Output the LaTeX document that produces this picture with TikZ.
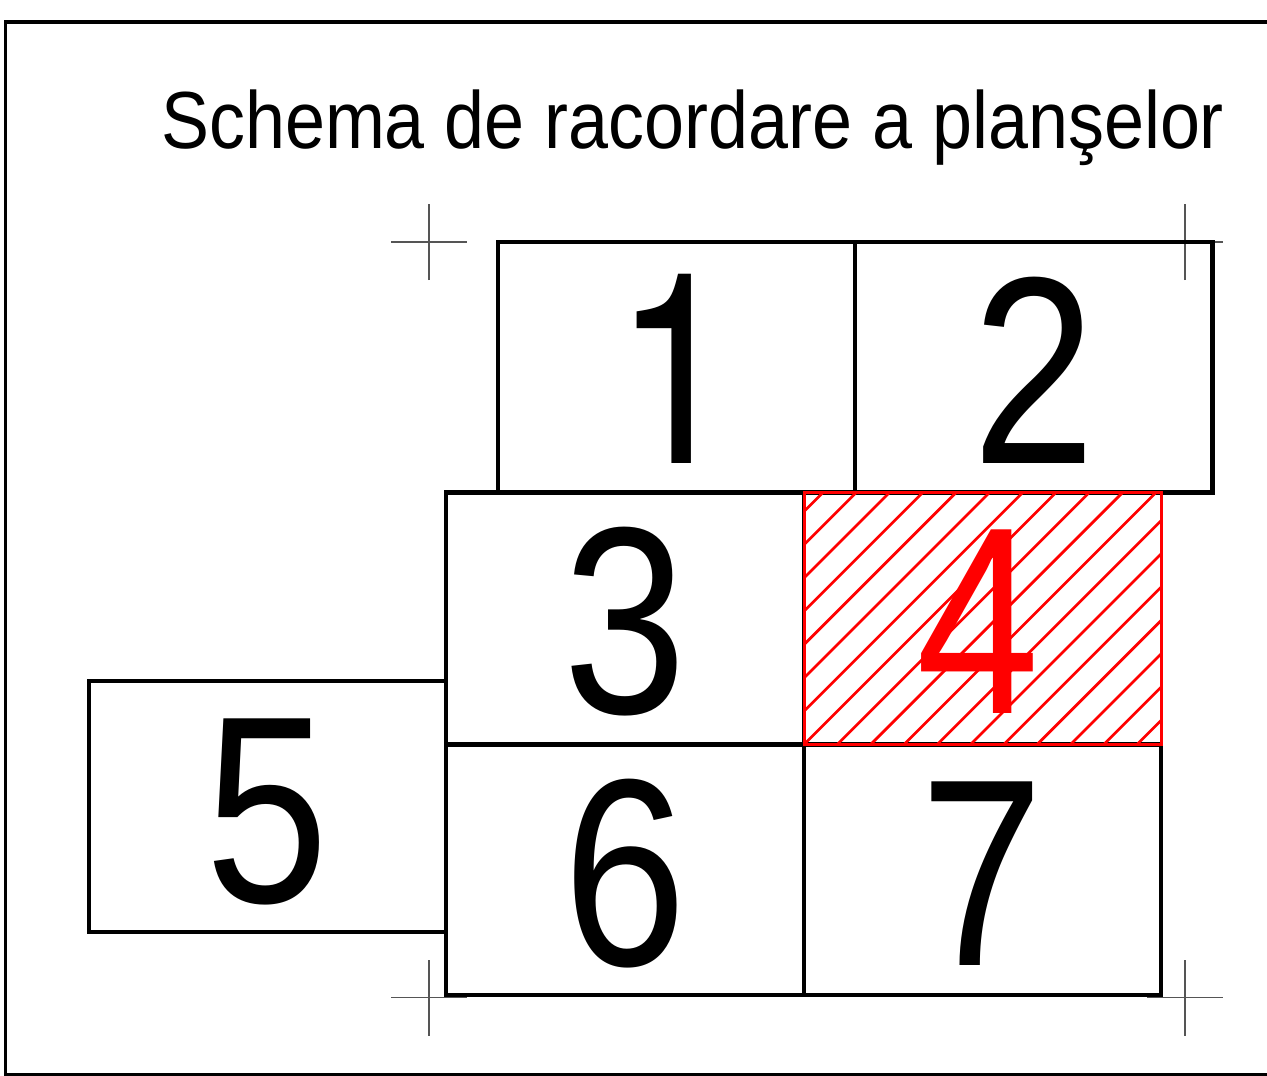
\documentclass[tikz,border=0pt]{standalone}
\usepackage{fontspec}
\setmainfont{Liberation Sans}
\newfontfamily\onefont{TeX Gyre Heros}
\definecolor{cropgray}{HTML}{555555}
\definecolor{hatchred}{HTML}{FF0000}
\newcommand\digsc[1]{\scalebox{0.83}[1]{#1}}
\begin{document}
\begin{tikzpicture}[x=1pt,y=-1pt,
  box/.style={line width=4.2pt},
  cropmark/.style={line width=1.5pt, draw=cropgray},
  digit/.style={anchor=base, inner sep=0pt, font=\fontsize{267}{267}\selectfont},
  hatchline/.style={line width=2.7pt, draw=hatchred}]
\clip (0,0) rectangle (1267,1076);
% outer frame
\draw[line width=3.8pt] (5.5,22.3) rectangle (1300,1074.5);
% title
\node[anchor=base west, inner sep=0pt, font=\fontsize{81}{81}\selectfont] (title) at (161,148) {\scalebox{0.8875}[1]{Schema de racordare a planşelor}};
% crop marks
\foreach \cx/\cy [count=\k] in {429/242, 1185/242, 429/997.7, 1185/997.7}{
  \coordinate (c\k) at (\cx,\cy);
  \draw[cropmark] ([xshift=-38pt]c\k) -- ([xshift=38pt]c\k);
  \draw[cropmark] ([yshift=-38pt]c\k) -- ([yshift=38pt]c\k);
}
% sheets
\draw[box] (497.7,242) rectangle (855,492.5);
\draw[box] (855,242) rectangle (1212.5,492.5);
\draw[box] (446,492.5) rectangle (804,744.5);
\draw[box] (88.7,681) rectangle (446,932);
\draw[box] (446,744.5) rectangle (804,995);
\draw[box] (804,744.5) rectangle (1161,995);
% hatched sheet 4
\begin{scope}
  \clip (804,492.5) rectangle (1161,744.5);
  \foreach \k in {-9,...,12}{
    \pgfmathsetmacro{\cc}{1548.5+33.3*\k}
    \draw[hatchline] (\cc-400,400) -- (\cc-800,800);
  }
\end{scope}
\draw[line width=3pt, draw=hatchred] (804,492.5) rectangle (1161,744.5);
% numbers
\node[digit, font=\onefont\fontsize{267}{267}\selectfont] (n1) at (676.3,463) {\digsc{1}};
\node[digit] (n2) at (1033.7,463) {\digsc{2}};
\node[digit] (n3) at (625,713.5) {\digsc{3}};
\node[digit, text=hatchred] (n4) at (978,713.5) {\digsc{4}};
\node[digit] (n5) at (267.3,902) {\digsc{5}};
\node[digit] (n6) at (625,965.5) {\digsc{6}};
\node[digit] (n7) at (982.5,965.5) {\digsc{7}};
\end{tikzpicture}
\end{document}
